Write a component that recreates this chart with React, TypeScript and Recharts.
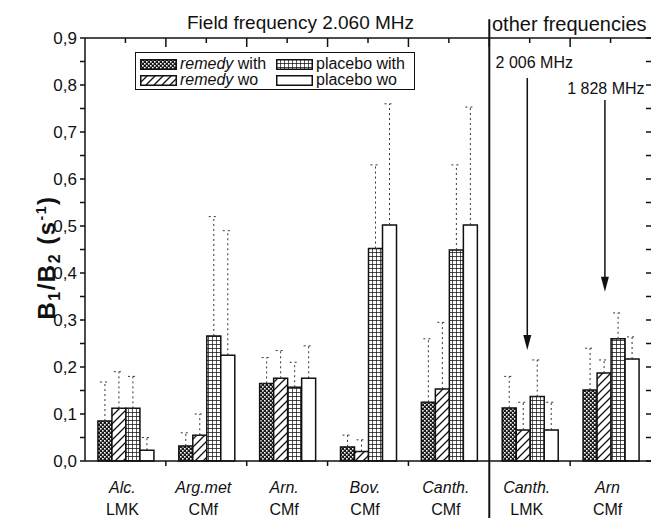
import React from 'react';
import {
  ComposedChart,
  Bar,
  Line,
  XAxis,
  YAxis,
  ErrorBar,
  ReferenceLine,
  Legend
} from 'recharts';

const categories = ['Alc.', 'Arg.met', 'Arn.', 'Bov.', 'Canth.', 'Canth.', 'Arn'];
const preparations = ['LMK', 'CMf', 'CMf', 'CMf', 'CMf', 'LMK', 'CMf'];

const remedyWith = [0.085, 0.032, 0.165, 0.03, 0.125, 0.113, 0.151];
const remedyWo = [0.112, 0.055, 0.176, 0.02, 0.153, 0.066, 0.187];
const placeboWith = [0.112, 0.266, 0.157, 0.452, 0.449, 0.137, 0.26];
const placeboWo = [0.023, 0.225, 0.176, 0.502, 0.502, 0.066, 0.217];

// upper end of the dashed error bars
const remedyWithTop = [0.168, 0.06, 0.22, 0.055, 0.26, 0.18, 0.24];
const remedyWoTop = [0.19, 0.1, 0.235, 0.045, 0.295, 0.125, 0.215];
const placeboWithTop = [0.18, 0.52, 0.21, 0.63, 0.63, 0.215, 0.315];
const placeboWoTop = [0.05, 0.49, 0.245, 0.76, 0.753, 0.125, 0.264];

const yTicks = [0, 0.05, 0.1, 0.15, 0.2, 0.25, 0.3, 0.35, 0.4, 0.45, 0.5, 0.55, 0.6, 0.65, 0.7, 0.75, 0.8, 0.85, 0.9];
// group centres (x.5) carry the labels, whole numbers are the group edges
const labelTicks = [0.5, 1.5, 2.5, 3.5, 4.5, 5.5, 6.5];
const topTicks = [0.5, 1, 1.5, 2, 2.5, 3, 3.5, 4, 4.5, 5, 5.5, 6, 6.5];
const bottomEdges = [1, 2, 3, 4, 6];

const rows = categories.map((name, i) => ({
  name,
  pos: i + 0.5,
  remedyWith: remedyWith[i],
  remedyWo: remedyWo[i],
  placeboWith: placeboWith[i],
  placeboWo: placeboWo[i],
  remedyWithErr: [0, remedyWithTop[i] - remedyWith[i]],
  remedyWoErr: [0, remedyWoTop[i] - remedyWo[i]],
  placeboWithErr: [0, placeboWithTop[i] - placeboWith[i]],
  placeboWoErr: [0, placeboWoTop[i] - placeboWo[i]],
}));

const FONT = '"Liberation Sans", Arial, sans-serif';
const INK = '#111';

// chart geometry, shared by the chart props and the frame overlay
const W = 651;
const H = 518;
const TOP = 38;
const Y_AXIS_W = 85;
const X_AXIS_H = 57;
const X_MAX = 7;
const Y_MAX = 0.9;

const BottomTick = ({ x, y, payload }: any) => {
  const i = Math.floor(payload.value);
  return (
    <text x={x} y={y} textAnchor="middle" fontSize={16} fill={INK} fontFamily={FONT}>
      <tspan x={x - 3} dy={32} fontStyle="italic">{categories[i]}</tspan>
      <tspan x={x - 3} dy={22}>{preparations[i]}</tspan>
    </text>
  );
};

// top border with inward ticks, inward ticks on the right, outward group-edge ticks at the bottom
const Frame = () => {
  const left = Y_AXIS_W;
  const right = W;
  const bottom = H - X_AXIS_H;
  const fx = (t: number) => left + (t / X_MAX) * (right - left);
  const fy = (v: number) => bottom - (v / Y_MAX) * (bottom - TOP);
  return (
    <svg
      width={W}
      height={H}
      style={{ position: 'absolute', left: 0, top: 0, pointerEvents: 'none', zIndex: 5 }}
    >
      <g stroke={INK} strokeWidth={1.5}>
        <line x1={left} y1={TOP} x2={right} y2={TOP} />
        {topTicks.map((t) => (
          <line key={`t${t}`} x1={fx(t)} y1={TOP} x2={fx(t)} y2={TOP + (Number.isInteger(t) ? 9 : 5)} />
        ))}
        {yTicks.map((v) => (
          <line key={`r${v}`} x1={right - 5} y1={fy(v)} x2={right} y2={fy(v)} />
        ))}
        {bottomEdges.map((t) => (
          <line key={`b${t}`} x1={fx(t)} y1={bottom} x2={fx(t)} y2={bottom + 5} />
        ))}
      </g>
    </svg>
  );
};

const YLabel = ({ viewBox }: any) => {
  const cx = viewBox.x + 55;
  const cy = viewBox.y + viewBox.height / 2 + 8;
  return (
    <text
      x={cx}
      y={cy}
      transform={`rotate(-90 ${cx} ${cy})`}
      textAnchor="middle"
      fontSize={24}
      fontWeight="bold"
      fill={INK}
      fontFamily={FONT}
      letterSpacing={1.5}
    >
      B<tspan fontSize={16} dy={5}>1</tspan>
      <tspan dy={-5}>/B</tspan>
      <tspan fontSize={16} dy={5}>2</tspan>
      <tspan dy={-5}> (s</tspan>
      <tspan fontSize={14} dy={-9}>-1</tspan>
      <tspan dy={9}>)</tspan>
    </text>
  );
};

const Arrow = ({ x1, y1, x2, y2, text, dx, dy }: any) => (
  <g>
    <line x1={x1} y1={y1} x2={x2} y2={y2 - 10} stroke={INK} strokeWidth={1.5} />
    <polygon points={`${x2},${y2} ${x2 - 4},${y2 - 15} ${x2 + 4},${y2 - 15}`} fill={INK} />
    <text x={x1 + dx} y={y1 - dy} textAnchor="middle" fontSize={16} fill={INK} fontFamily={FONT}>
      {text}
    </text>
  </g>
);

const Swatch = ({ fill }: { fill: string }) => (
  <svg width={37} height={11} style={{ display: 'block' }}>
    <rect x={0.75} y={0.75} width={35.5} height={9.5} fill={fill} stroke={INK} strokeWidth={1.5} />
  </svg>
);

const legendItems = [
  { fill: 'url(#remWith)', italic: 'remedy', rest: ' with', left: 4, top: 4 },
  { fill: 'url(#plWith)', italic: '', rest: 'placebo with', left: 140, top: 4 },
  { fill: 'url(#remWo)', italic: 'remedy', rest: ' wo', left: 4, top: 20 },
  { fill: '#fff', italic: '', rest: 'placebo wo', left: 140, top: 20 },
];

const LegendBox = () => (
  <div
    style={{
      position: 'relative',
      width: 278,
      height: 36,
      border: `1.5px solid ${INK}`,
      background: '#fff',
      fontFamily: FONT,
      fontSize: 16,
      color: INK,
    }}
  >
    {legendItems.map((it) => (
      <div
        key={it.rest + it.left}
        style={{ position: 'absolute', left: it.left, top: it.top, display: 'flex', alignItems: 'center', height: 14, lineHeight: '14px', whiteSpace: 'pre' }}
      >
        <Swatch fill={it.fill} />
        <span style={{ marginLeft: 3 }}>
          {it.italic && <i>{it.italic}</i>}
          {it.rest}
        </span>
      </div>
    ))}
  </div>
);

const yFormat = (v: number) =>
  Math.round(v * 100) % 10 === 0 ? v.toFixed(1).replace('.', ',') : '';

const App: React.FC = () => {
  return (
    <div style={{ position: 'absolute', left: 0, top: 0, width: W, height: H, overflow: 'hidden', background: '#fff', fontFamily: FONT }}>
      <div style={{ position: 'absolute', left: 187, top: 12, fontSize: 19, lineHeight: '22px', color: INK }}>
        Field frequency 2.060 MHz
      </div>
      <div style={{ position: 'absolute', left: 492, top: 13, fontSize: 20, lineHeight: '22px', color: INK }}>
        other frequencies
      </div>
      <ComposedChart
        width={W}
        height={H}
        data={rows}
        margin={{ top: TOP, right: 0, bottom: 0, left: 0 }}
        barCategoryGap="16%"
        barGap={0}
      >
        <defs>
          <pattern id="remWith" patternUnits="userSpaceOnUse" width={4} height={4}>
            <rect width={4} height={4} fill="#1a1a1a" />
            <rect x={0} y={0} width={1.6} height={1.6} fill="#fff" />
            <rect x={2} y={2} width={1.6} height={1.6} fill="#fff" />
          </pattern>
          <pattern id="remWo" patternUnits="userSpaceOnUse" width={8} height={8}>
            <rect width={8} height={8} fill="#fff" />
            <path d="M-2,2 l4,-4 M0,8 l8,-8 M6,10 l4,-4" stroke={INK} strokeWidth={1.3} />
          </pattern>
          <pattern id="plWith" patternUnits="userSpaceOnUse" width={4} height={4}>
            <rect width={4} height={4} fill="#fff" />
            <path d="M0,0 H4 M0,0 V4" stroke={INK} strokeWidth={1.4} />
          </pattern>
        </defs>

        <XAxis xAxisId="cat" dataKey="name" hide />
        <XAxis
          xAxisId="bottom"
          dataKey="pos"
          type="number"
          domain={[0, X_MAX]}
          ticks={labelTicks}
          interval={0}
          height={X_AXIS_H}
          tickLine={false}
          tickSize={0}
          tickMargin={0}
          tick={<BottomTick />}
          axisLine={{ stroke: INK, strokeWidth: 1.5 }}
        />
        <YAxis
          type="number"
          domain={[0, Y_MAX]}
          ticks={yTicks}
          interval={0}
          width={Y_AXIS_W}
          tickSize={5}
          tickMargin={3}
          tickFormatter={yFormat}
          tick={{ fill: INK, fontSize: 17, fontFamily: FONT }}
          tickLine={{ stroke: INK, strokeWidth: 1.5 }}
          axisLine={{ stroke: INK, strokeWidth: 1.5 }}
          label={<YLabel />}
        />

        <Legend
          verticalAlign="middle"
          align="center"
          layout="horizontal"
          content={<LegendBox />}
          wrapperStyle={{ position: 'absolute', left: 135, top: 52, width: 281, height: 39 }}
        />

        <Bar xAxisId="cat" dataKey="remedyWith" fill="url(#remWith)" stroke={INK} strokeWidth={1.5} isAnimationActive={false}>
          <ErrorBar dataKey="remedyWithErr" width={5} stroke="#333" strokeWidth={1} strokeDasharray="2 3" direction="y" />
        </Bar>
        <Bar xAxisId="cat" dataKey="remedyWo" fill="url(#remWo)" stroke={INK} strokeWidth={1.5} isAnimationActive={false}>
          <ErrorBar dataKey="remedyWoErr" width={5} stroke="#333" strokeWidth={1} strokeDasharray="2 3" direction="y" />
        </Bar>
        <Bar xAxisId="cat" dataKey="placeboWith" fill="url(#plWith)" stroke={INK} strokeWidth={1.5} isAnimationActive={false}>
          <ErrorBar dataKey="placeboWithErr" width={5} stroke="#333" strokeWidth={1} strokeDasharray="2 3" direction="y" />
        </Bar>
        <Bar xAxisId="cat" dataKey="placeboWo" fill="#fff" stroke={INK} strokeWidth={1.5} isAnimationActive={false}>
          <ErrorBar dataKey="placeboWoErr" width={5} stroke="#333" strokeWidth={1} strokeDasharray="2 3" direction="y" />
        </Bar>

        {/* invisible carrier so the numeric frame axis gets its scale */}
        <Line xAxisId="bottom" dataKey="remedyWith" stroke="none" dot={false} activeDot={false} legendType="none" isAnimationActive={false} />

        <ReferenceLine
          xAxisId="bottom"
          segment={[{ x: 5, y: 0.94 }, { x: 5, y: -0.125 }]}
          ifOverflow="visible"
          stroke={INK}
          strokeWidth={2}
        />
        <ReferenceLine
          xAxisId="bottom"
          segment={[{ x: 5.47, y: 0.815 }, { x: 5.47, y: 0.236 }]}
          ifOverflow="visible"
          shape={(p: any) => <Arrow {...p} text="2 006 MHz" dx={7} dy={10} />}
        />
        <ReferenceLine
          xAxisId="bottom"
          segment={[{ x: 6.43, y: 0.768 }, { x: 6.43, y: 0.36 }]}
          ifOverflow="visible"
          shape={(p: any) => <Arrow {...p} text="1 828 MHz" dx={1} dy={6} />}
        />
      </ComposedChart>
      <Frame />
    </div>
  );
};

export default App;
